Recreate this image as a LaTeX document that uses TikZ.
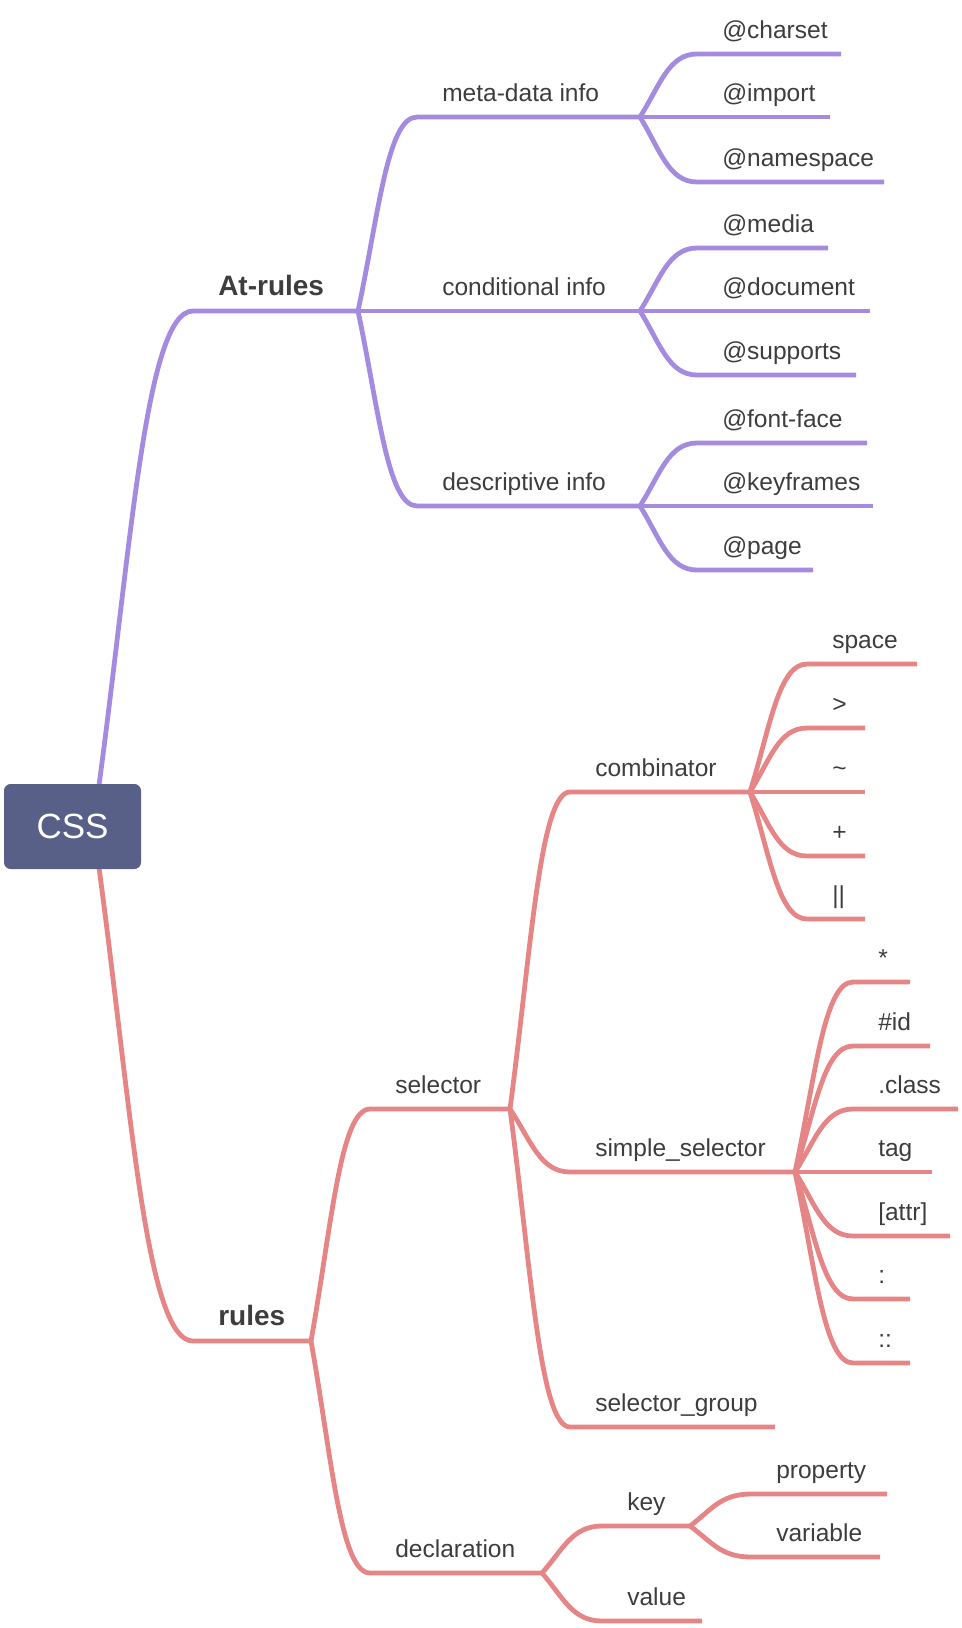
\documentclass[tikz,border=0pt]{standalone}
\usepackage{fontspec}
\setmainfont{Liberation Sans}
\usetikzlibrary{calc}
\pgfdeclarelayer{bg}
\pgfsetlayers{bg,main}
\definecolor{purp}{HTML}{A58BE0}
\definecolor{redl}{HTML}{E68585}
\definecolor{boxc}{HTML}{586087}
\definecolor{txt}{HTML}{3D3D3D}
\tikzset{
  lbl/.style={anchor=base west, inner sep=0pt, text=txt, font=\fontsize{18.4pt}{22pt}\selectfont},
  big/.style={font=\fontsize{21pt}{25pt}\selectfont\bfseries},
  wire/.style={line width=3.6pt},
  cssbox/.style={fill=boxc, rounded corners=5pt, minimum width=102.75pt, minimum height=63.75pt, text=white, font=\fontsize{26.25pt}{30pt}\selectfont, inner sep=0pt}
}
\newcommand\mylink[4]{%
  \begin{pgfonlayer}{bg}
  \draw[wire,#1] let \p1=(#2), \p2=(#3) in (\p1) .. controls ({\x1+0.35*(\x2-\x1)},{\y1+0.5*(\y2-\y1)}) and ({\x1+0.5*(\x2-\x1)},\y2) .. (\p2) -- (#4);
  \end{pgfonlayer}}
\newcommand\mnode[8]{%
  \coordinate (#3-s) at (#5,#6);
  \coordinate (#3-e) at (#7,#6);
  \node[lbl,#2] (#3) at ({#5+25},{#6-16}) {#8};
  \mylink{#1}{#4}{#3-s}{#3-e}}
\begin{document}
\begin{tikzpicture}[x=0.75pt,y=-0.75pt]
\useasboundingbox (0,0) rectangle (962,1628);
\node[cssbox] (css) at (72.5,826.5) {CSS};
\coordinate (css-t) at ($(css.center)+(24.5,-26.5)$);
\coordinate (css-b) at ($(css.center)+(24.5,26.5)$);
% At-rules branch
\mnode{purp}{big}{atrules}{css-t}{193}{311}{358}{At-rules}
\mnode{purp}{}{meta}{atrules-e}{417}{117}{640}{meta-data info}
\mnode{purp}{}{cond}{atrules-e}{417}{311}{640}{conditional info}
\mnode{purp}{}{desc}{atrules-e}{417}{506}{640}{descriptive info}
\mnode{purp}{}{charset}{meta-e}{697}{54}{841}{@charset}
\mnode{purp}{}{import}{meta-e}{697}{117}{830}{@import}
\mnode{purp}{}{namespace}{meta-e}{697}{182}{884}{@namespace}
\mnode{purp}{}{media}{cond-e}{697}{248}{828}{@media}
\mnode{purp}{}{document}{cond-e}{697}{311}{870}{@document}
\mnode{purp}{}{supports}{cond-e}{697}{375}{856}{@supports}
\mnode{purp}{}{fontface}{desc-e}{697}{443}{867}{@font-face}
\mnode{purp}{}{keyframes}{desc-e}{697}{506}{873}{@keyframes}
\mnode{purp}{}{page}{desc-e}{697}{570}{813}{@page}
% rules branch
\mnode{redl}{big}{rules}{css-b}{193}{1341}{311}{rules}
\mnode{redl}{}{selector}{rules-e}{370}{1109}{510}{selector}
\mnode{redl}{}{declaration}{rules-e}{370}{1573}{542}{declaration}
\mnode{redl}{}{combinator}{selector-e}{570}{792}{750}{combinator}
\mnode{redl}{}{simple}{selector-e}{570}{1172}{795}{simple\_selector}
\mnode{redl}{}{group}{selector-e}{570}{1427}{775}{selector\_group}
\mnode{redl}{}{space}{combinator-e}{807}{664}{917}{space}
\mnode{redl}{}{gt}{combinator-e}{807}{728}{865}{>}
\mnode{redl}{}{tilde}{combinator-e}{807}{792}{865}{\textasciitilde}
\mnode{redl}{}{plus}{combinator-e}{807}{856}{865}{+}
\mnode{redl}{}{bars}{combinator-e}{807}{919}{865}{||}
\mnode{redl}{}{star}{simple-e}{853}{982}{910}{*}
\mnode{redl}{}{id}{simple-e}{853}{1046}{930}{\#id}
\mnode{redl}{}{class}{simple-e}{853}{1109}{958}{.class}
\mnode{redl}{}{tag}{simple-e}{853}{1172}{932}{tag}
\mnode{redl}{}{attr}{simple-e}{853}{1236}{950}{[attr]}
\mnode{redl}{}{colon}{simple-e}{853}{1299}{910}{:}
\mnode{redl}{}{dcolon}{simple-e}{853}{1363}{910}{::}
\mnode{redl}{}{key}{declaration-e}{602}{1526}{690}{key}
\mnode{redl}{}{value}{declaration-e}{602}{1621}{702}{value}
\mnode{redl}{}{property}{key-e}{751}{1494}{887}{property}
\mnode{redl}{}{variable}{key-e}{751}{1557}{880}{variable}
\end{tikzpicture}
\end{document}
